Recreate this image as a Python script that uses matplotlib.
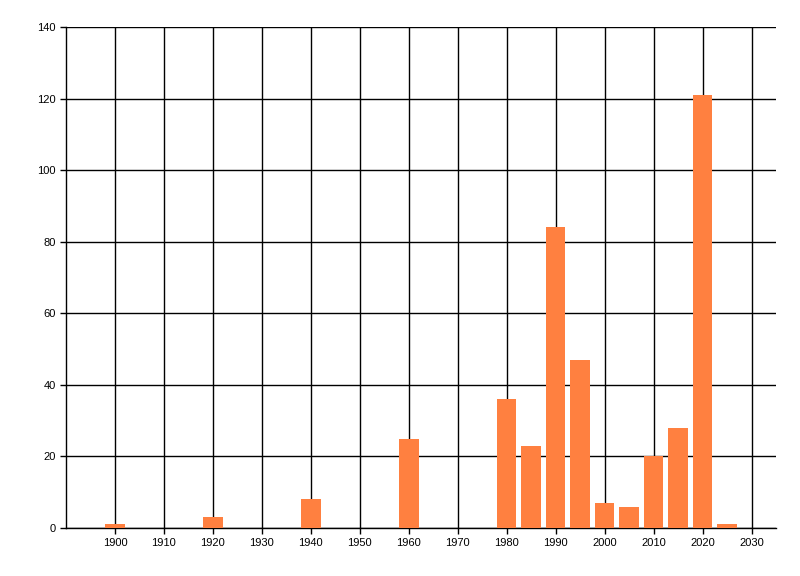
import matplotlib
matplotlib.use("Agg")
import matplotlib.pyplot as plt

years = [1900, 1920, 1940, 1960, 1980, 1985, 1990, 1995, 2000, 2005, 2010, 2015, 2020, 2025]
counts = [1, 3, 8, 25, 36, 23, 84, 47, 7, 6, 20, 28, 121, 1]
x_ticks = [1900, 1910, 1920, 1930, 1940, 1950, 1960, 1970, 1980, 1990, 2000, 2010, 2020, 2030]
y_ticks = [0, 20, 40, 60, 80, 100, 120, 140]

fig = plt.figure(figsize=(8, 5.76), dpi=100)
ax = fig.add_axes([66/800, 1-528/576, (776-66)/800, (528-27)/576])
ax.bar(years, counts, width=4, color="#FF8040", zorder=3)
ax.set_xlim(1890, 2035)
ax.set_ylim(0, 140)
ax.set_xticks(x_ticks)
ax.set_yticks(y_ticks)
ax.grid(True, color="black", linewidth=1, zorder=1)
for s in ["top", "right"]:
    ax.spines[s].set_visible(False)
for s in ["left", "bottom"]:
    ax.spines[s].set_linewidth(1)
ax.tick_params(length=4, width=1, labelsize=8, colors="black")
for lbl in ax.get_xticklabels() + ax.get_yticklabels():
    lbl.set_family("Liberation Sans")
fig.savefig("out.png", dpi=100)
